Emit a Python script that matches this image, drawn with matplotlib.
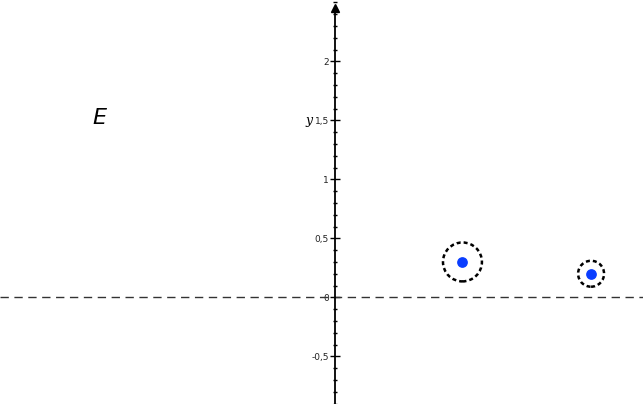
import matplotlib.pyplot as plt
from matplotlib.patches import Circle
from matplotlib.ticker import MultipleLocator, FuncFormatter

# points with their circles
px = [1.08, 2.17]
py = [0.30, 0.20]
radii = [0.165, 0.11]
yticks = [-0.5, 0, 0.5, 1, 1.5, 2]

fig = plt.figure(figsize=(6.43, 4.04), dpi=100)
ax = fig.add_axes([0, 0, 1, 1])
ax.set_xlim(-2.839, 2.61)
ax.set_ylim(-0.904, 2.52)

for s in ['top', 'right', 'bottom']:
    ax.spines[s].set_visible(False)
ax.spines['left'].set_position(('data', 0))
ax.spines['left'].set_linewidth(1.3)
ax.spines['left'].set_bounds(-0.904, 2.44)
ax.set_xticks([])
ax.set_yticks(yticks)
ax.yaxis.set_minor_locator(MultipleLocator(0.1))
ax.yaxis.set_major_formatter(FuncFormatter(lambda v, p: ('%g' % v).replace('.', ',')))
ax.tick_params(axis='y', which='major', direction='inout', length=7, width=1,
               labelsize=6.5, pad=1, labelcolor='#222222')
ax.tick_params(axis='y', which='minor', direction='inout', length=3, width=1)

# arrow at top of y axis
ax.plot(0, 2.45, marker='^', color='black', markersize=6, clip_on=False)

# dashed horizontal line at y=0
ax.axhline(0, color='#333333', lw=1, ls=(0, (6, 4)))

for x, y, r in zip(px, py, radii):
    ax.add_patch(Circle((x, y), r, fill=False, ec='black', lw=1.8, ls=(0, (1.6, 1.2))))
ax.scatter(px, py, s=45, color='#0a3dff', zorder=3)

ax.text(-0.22, 1.5, 'y', fontsize=9, family='DejaVu Serif', style='italic', ha='center', va='center')
ax.text(-2.0, 1.52, 'E', fontsize=16, style='italic', ha='center', va='center')

fig.savefig('out.png', dpi=100)
